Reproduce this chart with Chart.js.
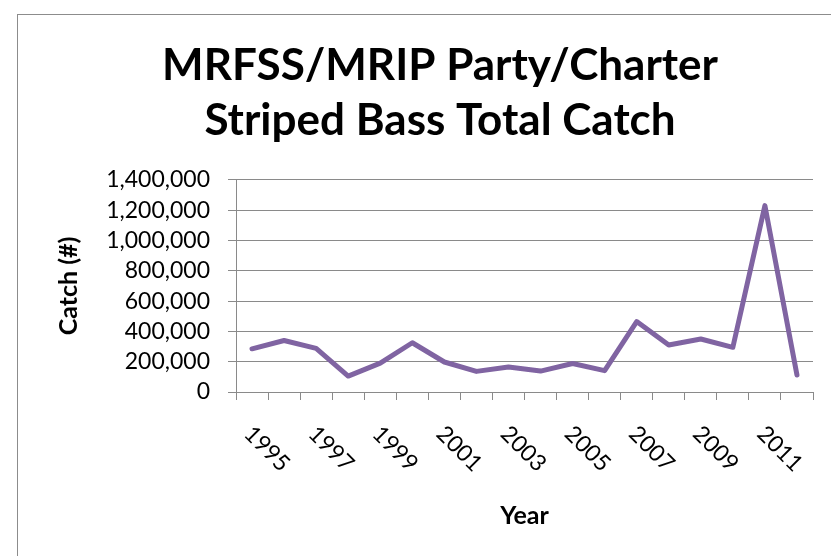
<!DOCTYPE html>
<html>
<head>
<meta charset="utf-8">
<script src="https://cdn.jsdelivr.net/npm/chart.js@4.4.1/dist/chart.umd.min.js"></script>
<style>
  html, body { margin: 0; padding: 0; background: #ffffff; overflow: hidden; width: 831px; height: 556px; }
  #frame { position: absolute; left: 17px; top: 14px; width: 900px; height: 700px; border: 1px solid #8c8c8c; box-sizing: border-box; }
  #c { position: absolute; left: 0; top: 0; }
</style>
</head>
<body>
<div id="frame"></div>
<canvas id="c" width="880" height="556"></canvas>
<script>
// ---- data ----
const years = ['1995','1996','1997','1998','1999','2000','2001','2002','2003','2004','2005','2006','2007','2008','2009','2010','2011','2012'];
const totalCatch = [285000, 340000, 288000, 105000, 191000, 325000, 198000, 136000, 165000, 138000, 188000, 141000, 465000, 310000, 350000, 295000, 1230000, 112000];
const yTickMin = 0;
const yTickMax = 1400000;
const yTickStep = 200000;
const titleLines = ['MRFSS/MRIP Party/Charter', 'Striped Bass Total Catch'];
const yTitle = 'Catch (#)';
const xTitle = 'Year';

const FONT = 'Lato';
const GRID = '#8a8a8a';

const rotatedLabels = {
  id: 'rotatedLabels',
  afterDraw(chart) {
    const x = chart.scales.x;
    const ctx = chart.ctx;
    ctx.save();
    ctx.font = '23px ' + FONT;
    ctx.fillStyle = '#000000';
    ctx.textAlign = 'left';
    ctx.textBaseline = 'middle';
    x.ticks.forEach((t, i) => {
      if (i % 2 !== 0) return;
      const px = x.getPixelForTick(i);
      ctx.save();
      ctx.translate(px - 4, x.top + 38);
      ctx.rotate(Math.PI / 4);
      ctx.fillText(x.getLabelForValue(t.value), 0, 0);
      ctx.restore();
    });
    ctx.restore();
  }
};

new Chart(document.getElementById('c'), {
  type: 'line',
  data: {
    labels: years,
    datasets: [{
      data: totalCatch,
      borderColor: '#8064A2',
      backgroundColor: '#8064A2',
      borderWidth: 5,
      pointRadius: 0,
      tension: 0,
      borderCapStyle: 'round',
      borderJoinStyle: 'round',
      fill: false
    }]
  },
  options: {
    responsive: false,
    animation: false,
    devicePixelRatio: 1,
    layout: { padding: { left: 67, right: 67, top: 38, bottom: 10 } },
    plugins: {
      legend: { display: false },
      tooltip: { enabled: false },
      title: {
        display: true,
        text: titleLines,
        color: '#000000',
        font: { family: FONT, size: 44, weight: 'bold', lineHeight: 1.26 },
        padding: { top: 0, bottom: 31 }
      }
    },
    scales: {
      x: {
        type: 'category',
        offset: true,
        grid: { offset: true, drawOnChartArea: false, drawTicks: true, tickLength: 8, color: GRID, lineWidth: 1 },
        border: { display: true, color: GRID, width: 1 },
        ticks: { autoSkip: false, color: 'rgba(0,0,0,0)', maxRotation: 0, minRotation: 0, font: { family: FONT, size: 22 } },
        title: { display: true, text: xTitle, color: '#000000', font: { family: FONT, size: 25, weight: 'bold', lineHeight: 1.2 }, padding: { top: 0, bottom: 15 } },
        afterFit(scale) { scale.height = 154; }
      },
      y: {
        min: yTickMin,
        max: yTickMax,
        ticks: {
          stepSize: yTickStep,
          autoSkip: false,
          color: '#000000',
          padding: 18,
          font: { family: FONT, size: 23 },
          callback: (v) => Number(v).toLocaleString('en-US')
        },
        grid: { drawTicks: true, tickLength: 8, color: GRID, lineWidth: 1 },
        border: { display: true, color: GRID, width: 1 },
        title: { display: true, text: yTitle, color: '#000000', font: { family: FONT, size: 25, weight: 'bold', lineHeight: 1.2 }, padding: { top: -13, bottom: 0 } },
        afterFit(scale) { scale.width = 169; }
      }
    }
  },
  plugins: [rotatedLabels]
});
</script>
</body>
</html>
